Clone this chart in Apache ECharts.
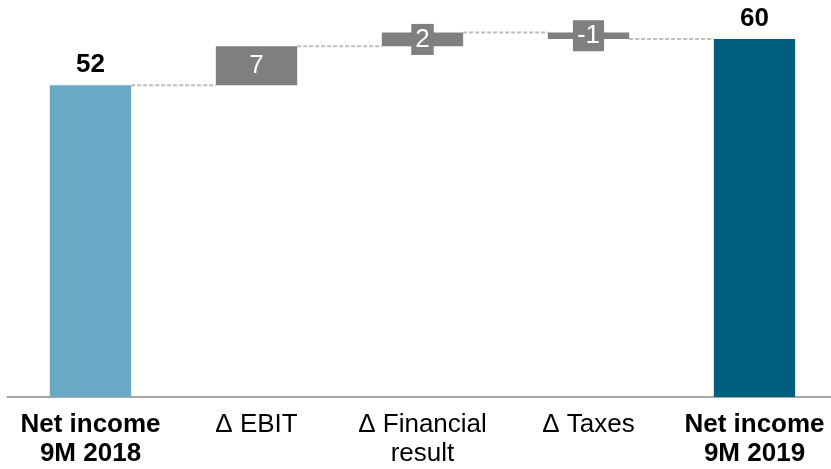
<!DOCTYPE html>
<html>
<head>
<meta charset="utf-8">
<script src="https://cdn.jsdelivr.net/npm/echarts@6/dist/echarts.min.js"></script>
<style>html,body{margin:0;padding:0;background:#fff;overflow:hidden;width:831px;height:469px;}#c{width:846px;height:469px;}</style>
</head>
<body>
<div id="c"></div>
<script>
var categories = ['Net income\n9M 2018', '\u0394 EBIT', '\u0394 Financial\nresult', '\u0394 Taxes', 'Net income\n9M 2019'];
var startValue = 52.1;
var deltas = [6.5, 2.3, -1.1];
var endValue = 59.8;
var boldCategory = [true, false, false, false, true];

var colors = { start: '#69a9c5', end: '#005e7c', delta: '#7f7f7f', conn: '#bdbdbd', axis: '#a6a6a6' };

// waterfall bases
var levels = [startValue];
deltas.forEach(function (d) { levels.push(levels[levels.length - 1] + d); });
var baseData = [0], valData = [startValue], labelVals = [startValue];
for (var i = 0; i < deltas.length; i++) {
  var lo = Math.min(levels[i], levels[i + 1]);
  baseData.push(lo);
  valData.push(Math.abs(deltas[i]));
  labelVals.push(deltas[i]);
}
baseData.push(0); valData.push(endValue); labelVals.push(endValue);
var connLevels = levels.slice();

var FONT = "'Liberation Sans', Arial, sans-serif";

var chart = echarts.init(document.getElementById('c'));
var BAR_FRAC = 0.49;
chart.setOption({
  animation: false,
  grid: { left: 7.5, width: 830, top: 8, bottom: 72, containLabel: false },
  xAxis: {
    type: 'category', data: categories,
    axisLine: { lineStyle: { color: colors.axis, width: 2 } },
    axisTick: { show: false },
    axisLabel: {
      interval: 0, margin: 13,
      formatter: function (v, idx) {
        var k = boldCategory[idx] ? 'b' : 'n';
        return v.split('\n').map(function (s) { return '{' + k + '|' + s + '}'; }).join('\n');
      },
      rich: {
        b: { fontFamily: FONT, fontSize: 26, fontWeight: 'bold', color: '#000', lineHeight: 29 },
        n: { fontFamily: FONT, fontSize: 26, color: '#000', lineHeight: 29 }
      }
    }
  },
  yAxis: { type: 'value', min: 0, max: 65, show: false, splitLine: { show: false } },
  series: [
    {
      type: 'bar', stack: 'w', barWidth: (BAR_FRAC * 100) + '%', silent: true,
      itemStyle: { color: 'transparent' }, data: baseData
    },
    {
      type: 'bar', stack: 'w', barWidth: (BAR_FRAC * 100) + '%',
      data: valData.map(function (v, i) {
        var isTotal = (i === 0 || i === valData.length - 1);
        var color = i === 0 ? colors.start : (i === valData.length - 1 ? colors.end : colors.delta);
        return {
          value: v,
          itemStyle: { color: color },
          label: isTotal ? {
            show: true, position: 'top', distance: 7,
            fontFamily: FONT, fontSize: 26, fontWeight: 'bold', color: '#000',
            formatter: function () { return Math.round(labelVals[i]).toString(); }
          } : {
            show: true, position: 'inside',
            fontFamily: FONT, fontSize: 26, color: '#fff', lineHeight: 25,
            backgroundColor: colors.delta, padding: [3, 4],
            formatter: function () { return Math.round(labelVals[i]).toString(); }
          }
        };
      })
    },
    {
      type: 'custom', silent: true, z: 1,
      data: connLevels.map(function (v, i) { return [i, v]; }),
      renderItem: function (params, api) {
        var i = api.value(0), v = api.value(1);
        var p1 = api.coord([i, v]);
        var p2 = api.coord([i + 1, v]);
        var band = api.size([1, 0])[0];
        var half = band * BAR_FRAC / 2;
        return {
          type: 'line',
          shape: { x1: p1[0] + half, y1: p1[1], x2: p2[0] - half, y2: p2[1] },
          style: { stroke: colors.conn, lineWidth: 2, lineDash: [4, 2] }
        };
      }
    }
  ]
});
</script>
</body>
</html>
